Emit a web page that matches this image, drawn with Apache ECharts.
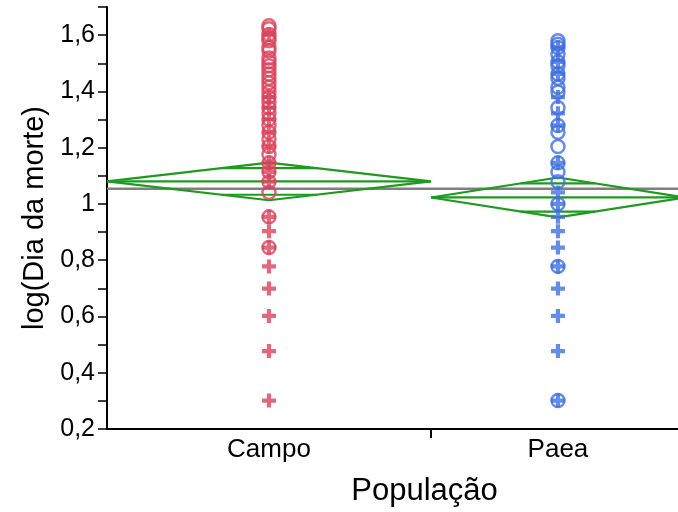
<!DOCTYPE html>
<html><head><meta charset="utf-8">
<script src="https://cdn.jsdelivr.net/npm/echarts@6/dist/echarts.min.js"></script>
<style>html,body{margin:0;padding:0;background:#fff}#c{width:678px;height:512px}</style>
</head><body><div id="c"></div>
<script>
// ---- data ----
const categories = ['Campo', 'Paea'];
const groupN = [51, 40];
const campoCircles = [1.633, 1.623, 1.602, 1.591, 1.580, 1.556, 1.544, 1.519, 1.505, 1.491, 1.477, 1.462, 1.447, 1.431, 1.415, 1.398, 1.380, 1.362, 1.342, 1.322, 1.301, 1.279, 1.255, 1.230, 1.204, 1.176, 1.146, 1.114, 1.079, 1.041, 0.954, 0.845];
const campoPlus = [1.602, 1.380, 1.342, 1.301, 1.255, 1.204, 1.146, 1.114, 1.079, 0.954, 0.903, 0.845, 0.778, 0.699, 0.602, 0.477, 0.301];
const paeaCircles = [1.580, 1.568, 1.556, 1.531, 1.505, 1.491, 1.462, 1.447, 1.415, 1.398, 1.342, 1.279, 1.255, 1.204, 1.146, 1.114, 1.079, 1.000, 0.778, 0.301];
const paeaPlus = [1.556, 1.505, 1.462, 1.380, 1.322, 1.279, 1.146, 1.041, 1.000, 0.954, 0.903, 0.845, 0.778, 0.699, 0.602, 0.477, 0.301];
const groupMeans = [1.080, 1.023];
const ciLow = [1.013, 0.952];
const ciHigh = [1.147, 1.094];
const grandMean = 1.054;
const xVisibleMax = 89.9; // right edge of the reference frame cuts the Paea band

// ---- layout from data ----
const total = groupN[0] + groupN[1];
const starts = [0, groupN[0]];
const ends = [groupN[0], total];
const centers = [groupN[0] / 2, groupN[0] + groupN[1] / 2];
const RED = '#d8445c', BLUE = '#3f6fe0', GREEN = '#1f9a1f';
const plusPath = 'path://M4.2,0h3.6v4.2h4.2v3.6h-4.2v4.2h-3.6v-4.2h-4.2v-3.6h4.2z';

function circles(vals, gi, color) {
  return { type: 'scatter', data: vals.map(v => [centers[gi], v]), symbol: 'circle', symbolSize: 13,
    itemStyle: { color: 'rgba(0,0,0,0)', borderColor: color, borderWidth: 2.5 }, z: 5, silent: true };
}
function pluses(vals, gi, color) {
  return { type: 'scatter', data: vals.map(v => [centers[gi], v]), symbol: plusPath, symbolSize: 14,
    itemStyle: { color: color }, z: 5, silent: true };
}
function line(data, color, width, z) {
  return { type: 'line', data: data, symbol: 'none', lineStyle: { color: color, width: width }, z: z, silent: true, animation: false };
}
const series = [];
series.push(line([[0, grandMean], [total, grandMean]], '#7f7f7f', 2.5, 2));
for (let g = 0; g < 2; g++) {
  const x0 = starts[g], x1 = ends[g], xc = centers[g], m = groupMeans[g];
  series.push(line([[x0, m], [xc, ciHigh[g]], [x1, m], [xc, ciLow[g]], [x0, m]], GREEN, 2.2, 3));
  series.push(line([[x0, m], [x1, m]], GREEN, 2.2, 3));
  const hw = (ciHigh[g] - ciLow[g]) / 2, k = 1 - 1 / Math.SQRT2, half = (x1 - x0) / 2;
  series.push(line([[xc - half * k, m + hw / Math.SQRT2], [xc + half * k, m + hw / Math.SQRT2]], GREEN, 2.2, 3));
  series.push(line([[xc - half * k, m - hw / Math.SQRT2], [xc + half * k, m - hw / Math.SQRT2]], GREEN, 2.2, 3));
}
series.push(circles(campoCircles, 0, RED));
series.push(pluses(campoPlus, 0, RED));
series.push(circles(paeaCircles, 1, BLUE));
series.push(pluses(paeaPlus, 1, BLUE));

const chart = echarts.init(document.getElementById('c'), null, { renderer: 'canvas' });
chart.setOption({
  animation: false,
  textStyle: { fontFamily: 'Liberation Sans' },
  grid: { left: 107, right: 0, top: 7, bottom: 82, containLabel: false },
  xAxis: {
    type: 'value', min: 0, max: xVisibleMax,
    name: 'População', nameLocation: 'middle', nameGap: 47,
    nameTextStyle: { fontSize: 31, color: '#000', fontFamily: 'Liberation Sans', padding: [0, 0, 0, 64] },
    axisLine: { show: true, onZero: false, lineStyle: { color: '#000', width: 2 } },
    axisTick: { show: true, customValues: [groupN[0]], length: 9, lineStyle: { color: '#000', width: 2 } },
    axisLabel: { show: true, customValues: centers, margin: 8, fontSize: 26, color: '#000',
      formatter: v => { const i = centers.findIndex(c => Math.abs(c - v) < 1e-6); return i >= 0 ? categories[i] : ''; } },
    splitLine: { show: false }
  },
  yAxis: {
    type: 'value', min: 0.2, max: 1.7, interval: 0.1,
    name: 'log(Dia da morte)', nameLocation: 'middle', nameGap: 56,
    nameTextStyle: { fontSize: 29, color: '#000', fontFamily: 'Liberation Sans' },
    axisLine: { show: true, onZero: false, lineStyle: { color: '#000', width: 2 } },
    axisTick: { show: true, length: 9, lineStyle: { color: '#000', width: 1.5 } },
    axisLabel: { margin: 12, fontSize: 25, color: '#000',
      formatter: v => { const r = Math.round(v * 10); if (r % 2 !== 0 || r > 16) return ''; return String(r / 10).replace('.', ','); } },
    splitLine: { show: false }
  },
  series: series
});
</script></body></html>
